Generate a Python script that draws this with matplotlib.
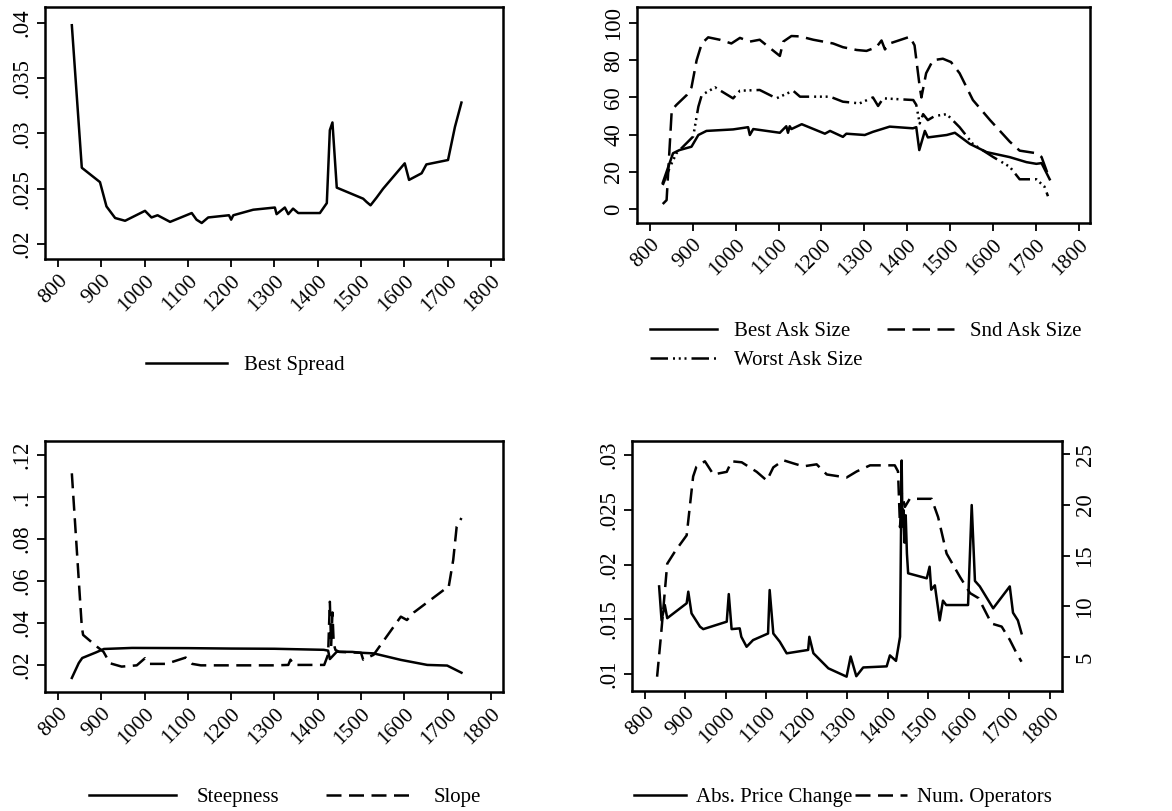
import numpy as np
import matplotlib
matplotlib.use('Agg')
import matplotlib.pyplot as plt

plt.rcParams['font.family'] = ['Liberation Serif', 'DejaVu Serif']
plt.rcParams['font.size'] = 15

# ---- data ----
# panel 1: best spread
spread_x = [832, 855, 897, 912, 932, 955, 1001, 1016, 1030, 1059, 1109, 1120, 1132, 1147,
            1195, 1200, 1205, 1251, 1301, 1305, 1324, 1332, 1343, 1355, 1405, 1421, 1428,
            1434, 1444, 1505, 1513, 1522, 1536, 1551, 1601, 1611, 1640, 1651, 1701, 1717, 1732]
spread_y = [.0398, .0269, .0256, .0234, .02235, .0221, .0230, .0224, .0226, .0220, .0228,
            .0222, .0219, .0224, .0226, .0222, .0226, .0231, .0233, .0227, .0233, .0227,
            .0232, .0228, .0228, .0237, .0303, .0310, .0251, .0241, .0238, .0235, .0242,
            .0250, .0273, .0258, .0264, .0272, .0276, .0306, .0328]

# panel 2: ask sizes
best_x = [830, 854, 869, 897, 913, 932, 994, 1029, 1033, 1041, 1103, 1118, 1122, 1126, 1130,
          1154, 1208, 1220, 1250, 1258, 1301, 1320, 1359, 1413, 1421, 1428, 1437, 1441, 1448,
          1492, 1511, 1546, 1585, 1639, 1678, 1701, 1713, 1732]
best_y = [14.1, 30, 31.7, 33.5, 39.8, 42, 42.8, 44, 39.8, 43, 41, 44.5, 41, 44.5, 43,
          45.6, 40.5, 42, 38.8, 40.5, 39.8, 41.5, 44.3, 43.4, 44, 31.7, 38.8, 42, 38.5,
          39.8, 41, 35, 30.6, 27.9, 25.2, 24.3, 24.7, 16]
snd_x = [830, 839, 851, 862, 886, 897, 909, 921, 936, 963, 990, 1010, 1033, 1056, 1084, 1103,
         1111, 1130, 1150, 1181, 1227, 1250, 1282, 1305, 1328, 1340, 1348, 1359, 1406, 1417,
         1429, 1433, 1444, 1460, 1483, 1502, 1522, 1553, 1593, 1639, 1662, 1701, 1713, 1732]
snd_y = [2.7, 4.8, 53.2, 56, 61.3, 65.4, 80, 89, 92.3, 91, 89, 92, 90, 91, 85.8, 82.3,
         90, 93, 92.8, 91, 89, 87, 85.5, 85, 87, 90.6, 85.8, 89, 92.6, 88,
         65.8, 60, 73, 80, 80.8, 79, 73, 58.6, 47.8, 36.2, 31.4, 30, 28, 16]
worst_x = [830, 847, 862, 885, 901, 913, 921, 952, 994, 1010, 1056, 1095, 1134, 1150, 1220,
           1250, 1289, 1320, 1332, 1344, 1414, 1421, 1429, 1437, 1448, 1464, 1492, 1522,
           1553, 1600, 1639, 1662, 1701, 1720, 1728]
worst_y = [12.9, 22.7, 30, 35.3, 39, 55, 61.3, 65.4, 59.5, 63.6, 64, 59.5, 63.6, 60.4, 60.4,
           57.7, 56.8, 60, 55.4, 59.5, 58.6, 56, 46, 51, 47.8, 50, 51, 44,
           35, 28, 22.7, 16, 16, 12, 6.9]

# panel 3: steepness and slope
steep_x = [832, 848, 856, 887, 906, 971, 1100, 1200, 1300, 1414, 1424, 1428, 1444, 1480,
           1500, 1529, 1592, 1653, 1699, 1732]
steep_y = [.0138, .0209, .0233, .0259, .0276, .0281, .0280, .0278, .0277, .0272, .0268,
           .0228, .0263, .0262, .0258, .0255, .0224, .0200, .0197, .0163]
slope_x = [832, 855, 858, 890, 905, 920, 947, 982, 1001, 1012, 1050, 1080, 1095, 1110,
           1130, 1300, 1332, 1337, 1345, 1415, 1424, 1428, 1431, 1434, 1437, 1441, 1450,
           1500, 1505, 1529, 1592, 1606, 1622, 1691, 1702, 1713, 1721, 1732]
slope_y = [.1113, .0382, .0343, .0287, .0263, .0208, .0192, .0198, .0232, .0205, .0205,
           .0225, .0235, .0205, .0198, .0198, .0200, .0225, .0200, .0200, .0250, .0501,
           .0290, .0450, .0300, .0271, .0262, .0258, .0225, .0248, .0430, .0414, .0450,
           .0557, .0565, .0700, .0859, .0900]

# panel 4: abs price change (left axis) and number of operators (right axis)
price_x = [835, 841, 849, 855, 903, 907, 915, 936, 944, 1002, 1007, 1014, 1034, 1038, 1051,
           1067, 1104, 1108, 1117, 1133, 1150, 1203, 1206, 1216, 1253, 1298, 1308, 1322,
           1339, 1397, 1405, 1420, 1430, 1434, 1436, 1438, 1441, 1444, 1447, 1450, 1496,
           1503, 1507, 1516, 1528, 1536, 1544, 1598, 1607, 1615, 1627, 1660, 1701, 1709,
           1721, 1730]
price_y = [.0180, .0149, .0163, .0151, .01646, .01752, .01554, .01432, .0141, .01478, .0173,
           .0141, .01417, .0134, .01249, .0131, .0137, .01767, .0137, .01295, .01189, .0122,
           .0134, .0119, .01052, .00976, .0116, .0098, .0106, .0107, .0117, .0112, .0134,
           .0295, .0235, .0250, .0220, .0245, .0210, .0192, .01874, .0198, .0177, .0181,
           .0149, .0167, .0163, .0163, .02543, .0185, .0180, .0160, .0180, .0156, .0149,
           .01372]
oper_x = [830, 840, 855, 874, 903, 919, 927, 948, 969, 1002, 1014, 1039, 1076, 1101, 1117,
          1142, 1166, 1191, 1224, 1249, 1298, 1323, 1356, 1417, 1425, 1430, 1434, 1442,
          1454, 1508, 1524, 1545, 1578, 1603, 1624, 1656, 1681, 1701, 1718, 1730]
oper_y = [3.06, 7.3, 14.2, 15.4, 17.0, 22.8, 23.75, 24.3, 23, 23.26, 24.3, 24.2, 23.26,
          22.4, 23.7, 24.4, 24.1, 23.8, 24, 23, 22.7, 23.3, 23.9, 23.9, 23.3, 17.8, 21.2,
          19.8, 20.6, 20.6, 18.8, 15.2, 12.9, 11.3, 10.8, 8.3, 8, 6.7, 5.36, 4.54]

xticks = [800, 900, 1000, 1100, 1200, 1300, 1400, 1500, 1600, 1700, 1800]
p1_yticks = [.02, .025, .03, .035, .04]
p1_ylabels = ['.02', '.025', '.03', '.035', '.04']
p2_yticks = [0, 20, 40, 60, 80, 100]
p3_yticks = [.02, .04, .06, .08, .1, .12]
p3_ylabels = ['.02', '.04', '.06', '.08', '.1', '.12']
p4_yticks = [.01, .015, .02, .025, .03]
p4_ylabels = ['.01', '.015', '.02', '.025', '.03']
p4_rticks = [5, 10, 15, 20, 25]

W, H = 1172, 811
fig = plt.figure(figsize=(W / 100, H / 100), dpi=100)


def box(l, t, r, b):
    return [l / W, 1 - b / H, (r - l) / W, (b - t) / H]


def style(ax, xlim, ylim, yticks, ylabels):
    ax.set_xlim(*xlim)
    ax.set_ylim(*ylim)
    ax.set_xticks(xticks)
    ax.set_xticklabels([str(v) for v in xticks], rotation=45, ha='right',
                       rotation_mode='anchor', fontsize=15.5)
    ax.set_yticks(yticks)
    ax.set_yticklabels(ylabels, rotation=90, va='center', fontsize=16.5)
    ax.tick_params(direction='out', length=6, width=1.3, pad=3)
    for s in ax.spines.values():
        s.set_linewidth(1.8)


lw = 1.8
ax1 = fig.add_axes(box(45, 7, 503, 259))
ax1.plot(spread_x, spread_y, color='black', lw=lw, label='Best Spread')
style(ax1, (770, 1828), (.01864, .04145), p1_yticks, p1_ylabels)
fig.legend(*ax1.get_legend_handles_labels(), loc='center', bbox_to_anchor=(245 / W, 1 - 365 / H),
           frameon=False, handlelength=3.9, handletextpad=0.8)

ax2 = fig.add_axes(box(637, 7, 1090, 223))
l_best, = ax2.plot(best_x, best_y, color='black', lw=lw, label='Best Ask Size')
l_snd, = ax2.plot(snd_x, snd_y, color='black', lw=lw, dashes=(7, 3), label='Snd Ask Size')
l_worst, = ax2.plot(worst_x, worst_y, color='black', lw=lw,
                    dashes=(7, 2, 0.8, 1.5, 0.8, 1.5, 0.8, 2), label='Worst Ask Size')
style(ax2, (770, 1826), (-7.5, 108.6), p2_yticks, [str(v) for v in p2_yticks])
# column-first fill: best / worst in column 1, snd in column 2
fig.legend([l_best, l_worst, l_snd], ['Best Ask Size', 'Worst Ask Size', 'Snd Ask Size'],
           loc='center', ncol=2, bbox_to_anchor=(866 / W, 1 - 346 / H), frameon=False,
           handlelength=3.2, handletextpad=0.8, columnspacing=1.2, labelspacing=0.45)

ax3 = fig.add_axes(box(45, 441, 503, 692))
ax3.plot(steep_x, steep_y, color='black', lw=lw, label='Steepness')
ax3.plot(slope_x, slope_y, color='black', lw=lw, dashes=(6, 3), label='Slope')
style(ax3, (770, 1828), (.0071, .1267), p3_yticks, p3_ylabels)
fig.legend(*ax3.get_legend_handles_labels(), loc='center', ncol=2,
           bbox_to_anchor=(285 / W, 1 - 797 / H), frameon=False, handlelength=4.2,
           handletextpad=1.0, columnspacing=2.2)

ax4 = fig.add_axes(box(632, 441, 1062, 691))
ax4.plot(price_x, price_y, color='black', lw=lw, label='Abs. Price Change')
style(ax4, (768, 1830), (.00845, .03128), p4_yticks, p4_ylabels)
ax4r = ax4.twinx()
ax4r.plot(oper_x, oper_y, color='black', lw=lw, dashes=(6, 3), label='Num. Operators')
ax4r.set_ylim(1.65, 26.3)
ax4r.set_yticks(p4_rticks)
ax4r.set_yticklabels([str(v) for v in p4_rticks], rotation=90, va='center', fontsize=16.5)
ax4r.tick_params(direction='out', length=6, width=1.3, pad=3)
h1, l1 = ax4.get_legend_handles_labels()
h2, l2 = ax4r.get_legend_handles_labels()
fig.legend(h1 + h2, l1 + l2, loc='center', ncol=2,
           bbox_to_anchor=(843 / W, 1 - 797 / H), frameon=False, handlelength=2.5,
           handletextpad=0.5, columnspacing=0.1)

fig.savefig('out.png', dpi=100, facecolor='white')
